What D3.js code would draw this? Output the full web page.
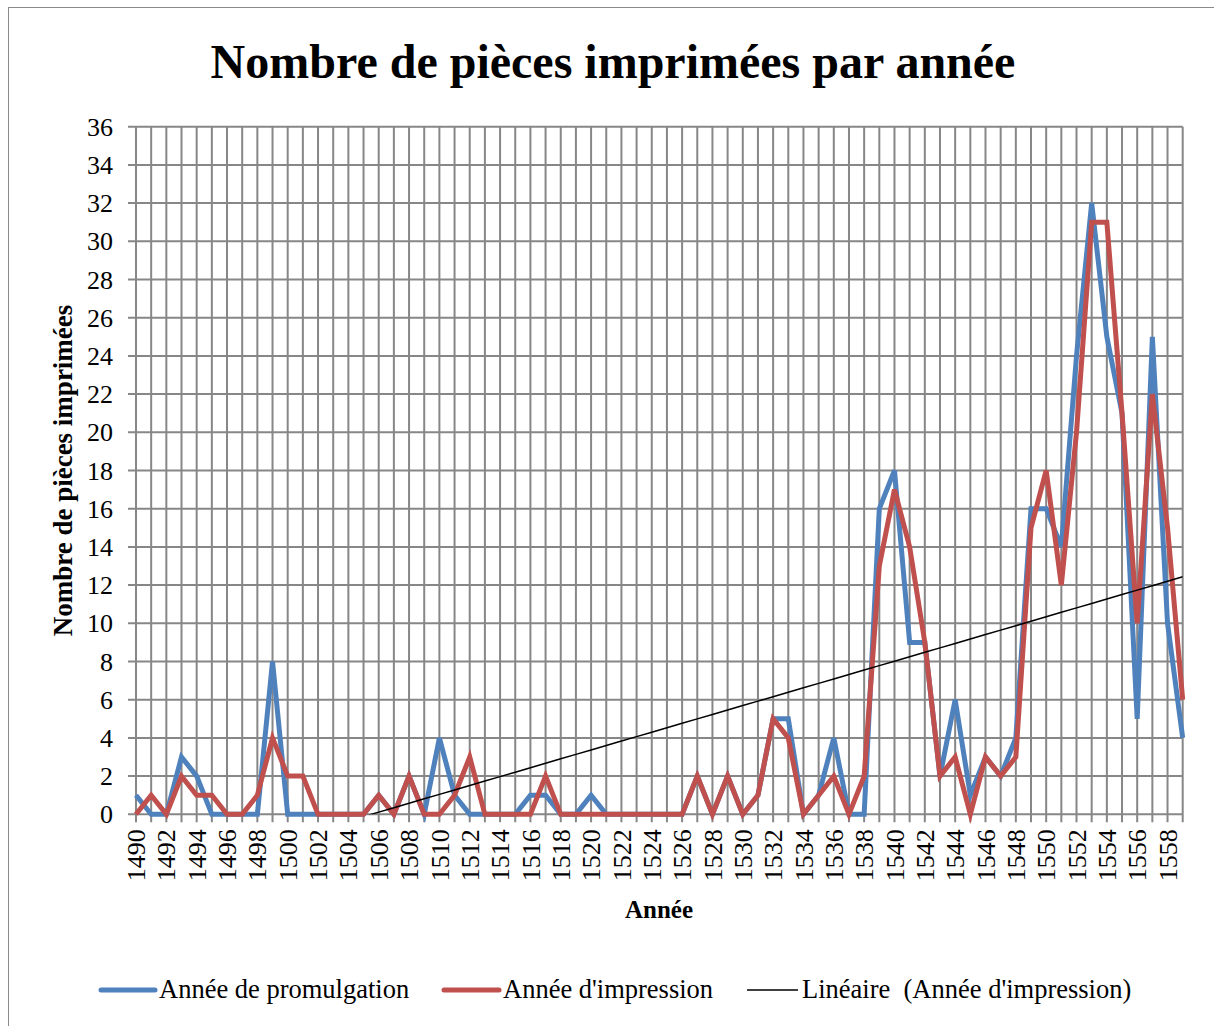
<!DOCTYPE html>
<html>
<head>
<meta charset="utf-8">
<script src="https://cdn.jsdelivr.net/npm/d3@7"></script>
<style>
  html, body { margin: 0; padding: 0; background: #fff; }
  svg { display: block; font-family: "Liberation Serif", "Times New Roman", serif; }
</style>
</head>
<body>
<div id="chart"></div>
<script>
// Data
const years = d3.range(1490, 1560);

const promulgation = [
  1, 0, 0, 3, 2, 0, 0, 0, 0, 8,
  0, 0, 0, 0, 0, 0, 1, 0, 2, 0,
  4, 1, 0, 0, 0, 0, 1, 1, 0, 0,
  1, 0, 0, 0, 0, 0, 0, 2, 0, 2,
  0, 1, 5, 5, 0, 1, 4, 0, 0, 16,
  18, 9, 9, 2, 6, 1, 3, 2, 4, 16,
  16, 14, 24, 32, 25, 21, 5, 25, 10, 4
];

const impression = [
  0, 1, 0, 2, 1, 1, 0, 0, 1, 4,
  2, 2, 0, 0, 0, 0, 1, 0, 2, 0,
  0, 1, 3, 0, 0, 0, 0, 2, 0, 0,
  0, 0, 0, 0, 0, 0, 0, 2, 0, 2,
  0, 1, 5, 4, 0, 1, 2, 0, 2, 13,
  17, 14, 9, 2, 3, 0, 3, 2, 3, 15,
  18, 12, 20, 31, 31, 21, 10, 22, 15, 6
];

const yTicks = d3.range(0, 37, 2);
const xTickLabels = years.filter(y => (y - 1490) % 2 === 0);

const seriesNames = ["Année de promulgation", "Année d'impression", "Linéaire  (Année d'impression)"];
const colors = ["#4F81BD", "#C0504D", "#000000"];

// === Layout ===
const W = 1214, H = 1026;
const margin = { top: 126.7, right: 31.3, bottom: 211.7, left: 136 };
const width = W - margin.left - margin.right,
      height = H - margin.top - margin.bottom;

const svg = d3.select("#chart").append("svg")
  .attr("width", W)
  .attr("height", H);

// outer chart border
svg.append("rect")
  .attr("x", 8.5).attr("y", 7.5)
  .attr("width", W).attr("height", H)
  .attr("fill", "none")
  .attr("stroke", "#8a8a8a")
  .attr("stroke-width", 1);

// Title
svg.append("text")
  .attr("x", 613)
  .attr("y", 78)
  .attr("text-anchor", "middle")
  .attr("font-size", "48px")
  .attr("font-weight", "bold")
  .text("Nombre de pièces imprimées par année");

const g = svg.append("g")
  .attr("transform", `translate(${margin.left},${margin.top})`);

const x = d3.scalePoint().domain(years).range([0, width]);
const y = d3.scaleLinear().domain([0, 36]).range([height, 0]);

// Grid lines (Excel style, with outside tick marks)
const gridColor = "#878787";
g.append("g").selectAll("line")
  .data(yTicks)
  .join("line")
  .attr("x1", -8).attr("x2", width)
  .attr("y1", d => y(d)).attr("y2", d => y(d))
  .attr("stroke", gridColor)
  .attr("stroke-width", 2);

g.append("g").selectAll("line")
  .data(years)
  .join("line")
  .attr("x1", d => x(d)).attr("x2", d => x(d))
  .attr("y1", 0).attr("y2", height + 8)
  .attr("stroke", gridColor)
  .attr("stroke-width", 2);

// Y tick labels
g.append("g").selectAll("text")
  .data(yTicks)
  .join("text")
  .attr("x", -23)
  .attr("y", d => y(d))
  .attr("dy", "0.35em")
  .attr("text-anchor", "end")
  .attr("font-size", "26px")
  .text(d => d);

// X tick labels (rotated)
g.append("g").selectAll("text")
  .data(xTickLabels)
  .join("text")
  .attr("transform", d => `translate(${x(d)},${height + 15}) rotate(-90)`)
  .attr("dy", "0.35em")
  .attr("text-anchor", "end")
  .attr("font-size", "26px")
  .text(d => d);

// Axis titles
svg.append("text")
  .attr("x", 659)
  .attr("y", 918)
  .attr("text-anchor", "middle")
  .attr("font-size", "25px")
  .attr("font-weight", "bold")
  .text("Année");

svg.append("text")
  .attr("transform", `translate(72,${margin.top + height / 2}) rotate(-90)`)
  .attr("text-anchor", "middle")
  .attr("font-size", "27px")
  .attr("font-weight", "bold")
  .text("Nombre de pièces imprimées");

// Series lines
const line = d3.line()
  .x((d, i) => x(years[i]))
  .y(d => y(d));

g.append("path")
  .datum(promulgation)
  .attr("fill", "none")
  .attr("stroke", colors[0])
  .attr("stroke-width", 5)
  .attr("stroke-linejoin", "miter")
  .attr("d", line);

g.append("path")
  .datum(impression)
  .attr("fill", "none")
  .attr("stroke", colors[1])
  .attr("stroke-width", 5)
  .attr("stroke-linejoin", "miter")
  .attr("d", line);

// Linear trend of "Année d'impression" (least squares), clipped to the plot area
const meanX = d3.mean(years), meanY = d3.mean(impression);
const sxy = d3.sum(years, (yr, i) => (yr - meanX) * (impression[i] - meanY));
const sxx = d3.sum(years, yr => (yr - meanX) ** 2);
const slope = sxy / sxx;
const intercept = meanY - slope * meanX;
const trend = years.map(yr => intercept + slope * yr);

g.append("clipPath").attr("id", "plotClip")
  .append("rect")
  .attr("x", 0).attr("y", 0)
  .attr("width", width).attr("height", height);

g.append("path")
  .datum(trend)
  .attr("clip-path", "url(#plotClip)")
  .attr("fill", "none")
  .attr("stroke", colors[2])
  .attr("stroke-width", 1.5)
  .attr("d", line);

// Legend
const legendX = [101, 444, 747];
const legendLen = [54, 55, 51];
const legendW = [5, 5, 1.5];
const legend = svg.append("g");
seriesNames.forEach((name, i) => {
  legend.append("line")
    .attr("x1", legendX[i]).attr("x2", legendX[i] + legendLen[i])
    .attr("y1", 990).attr("y2", 990)
    .attr("stroke", colors[i])
    .attr("stroke-width", legendW[i])
    .attr("stroke-linecap", i < 2 ? "round" : "butt");
  legend.append("text")
    .attr("x", legendX[i] + legendLen[i] + 4)
    .attr("y", 998)
    .attr("font-size", "26.5px")
    .style("white-space", "pre")
    .text(name);
});
</script>
</body>
</html>
